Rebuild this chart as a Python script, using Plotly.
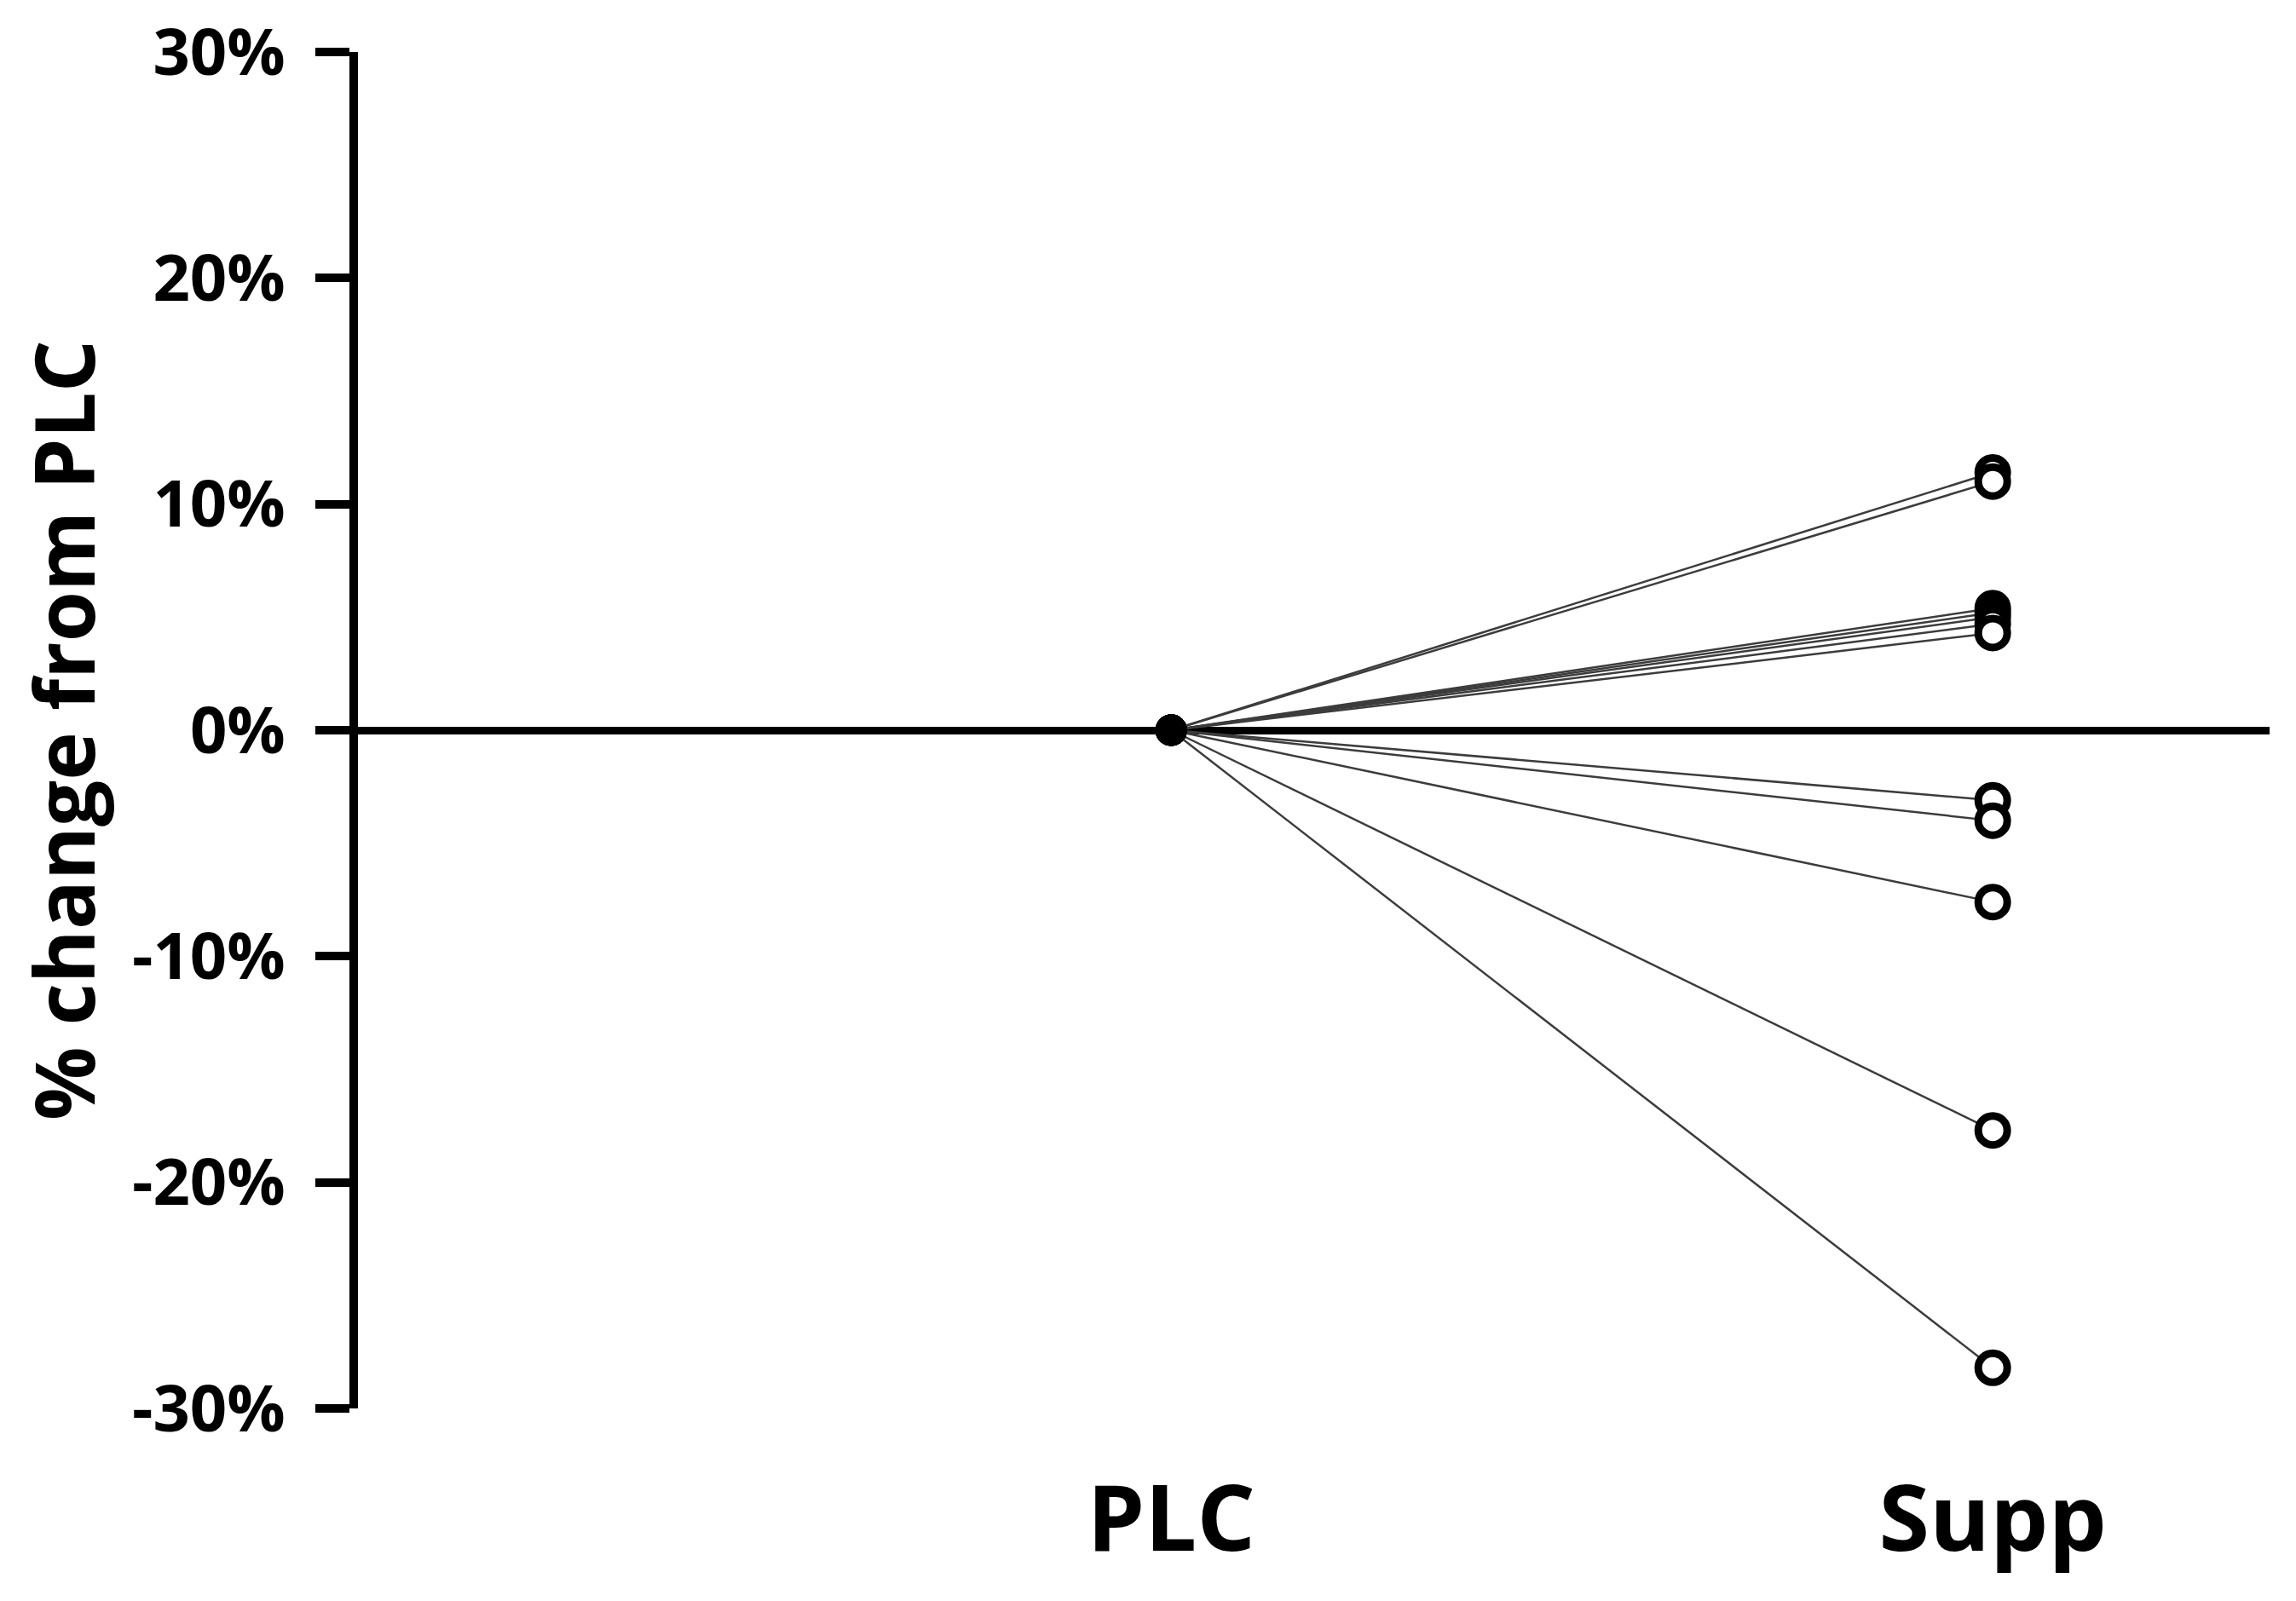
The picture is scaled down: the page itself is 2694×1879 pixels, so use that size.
import plotly.graph_objects as go

# categorias y valores (cambio % respecto a PLC, por sujeto)
categorias = ["PLC", "Supp"]
plc_vals = [0.0] * 12
supp_vals = [0.114, 0.110, 0.054, 0.052, 0.050, 0.047, 0.043, -0.031, -0.040, -0.076, -0.177, -0.282]
y_ticks = [-0.3, -0.2, -0.1, 0.0, 0.1, 0.2, 0.3]
y_ticktext = ["-30%", "-20%", "-10%", "0%", "10%", "20%", "30%"]

fuente = "Open Sans"

fig = go.Figure()

# lineas que unen cada sujeto
for i in range(len(supp_vals)):
    fig.add_trace(go.Scatter(
        x=[0, 1], y=[plc_vals[i], supp_vals[i]],
        mode="lines",
        line=dict(color="#3c3c3c", width=2.5),
        showlegend=False, hoverinfo="skip"))

fig.add_trace(go.Scatter(
    x=[0] * len(plc_vals), y=plc_vals, mode="markers",
    marker=dict(size=34, color="black", line=dict(color="black", width=3)),
    showlegend=False, name="PLC"))

fig.add_trace(go.Scatter(
    x=[1] * len(supp_vals), y=supp_vals, mode="markers",
    marker=dict(size=34, color="white", line=dict(color="black", width=9)),
    showlegend=False, name="Supp"))

fig.update_layout(
    width=2694, height=1879,
    plot_bgcolor="white", paper_bgcolor="white",
    margin=dict(l=412, r=39, t=53, b=234),
    font=dict(family=fuente, color="black"),
)

fig.update_xaxes(
    range=[-0.99, 1.337],
    tickvals=[0, 1], ticktext=categorias,
    ticks="", showline=False, showgrid=False, zeroline=False,
    tickfont=dict(family=fuente, size=108, weight="bold", color="black"),
    ticklabelstandoff=58, automargin=False,
)

fig.update_yaxes(
    range=[-0.3, 0.3],
    tickvals=y_ticks, ticktext=y_ticktext,
    ticks="outside", ticklen=40, tickwidth=10, tickcolor="black",
    showline=True, linewidth=10, linecolor="black",
    showgrid=False,
    zeroline=True, zerolinewidth=9, zerolinecolor="black",
    tickfont=dict(family=fuente, size=76, weight="bold", color="black"),
    ticklabelstandoff=20, ticklabeloverflow="allow", automargin=False,
    title=dict(text="% change from PLC", standoff=45,
               font=dict(family=fuente, size=96, weight="bold", color="black")),
)

fig.write_html("out.html")
